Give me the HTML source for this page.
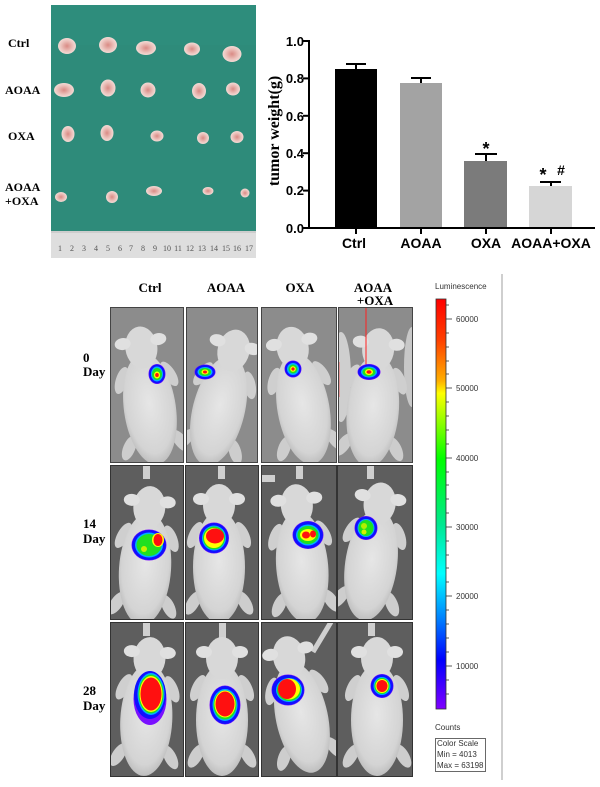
<!DOCTYPE html>
<html><head><meta charset="utf-8"><style>
html,body{margin:0;padding:0;background:#fff;width:600px;height:787px;overflow:hidden;}
svg{display:block;}
.ser{font-family:"Liberation Serif",serif;font-weight:bold;}
.san{font-family:"Liberation Sans",sans-serif;font-weight:bold;}
.sm{font-family:"Liberation Sans",sans-serif;font-size:8px;fill:#333;}
</style></head><body>
<svg width="600" height="787" viewBox="0 0 600 787" xmlns="http://www.w3.org/2000/svg" style="position:absolute;left:0;top:0;">
<defs>
<radialGradient id="bodyg" cx="50%" cy="45%" r="60%">
<stop offset="0%" stop-color="#e6e6e6"/><stop offset="75%" stop-color="#d4d4d4"/><stop offset="100%" stop-color="#b4b4b4"/>
</radialGradient>
<linearGradient id="cbar" x1="0" y1="0" x2="0" y2="1">
<stop offset="0" stop-color="#ff0000"/>
<stop offset="0.1" stop-color="#ff4000"/>
<stop offset="0.2" stop-color="#ffb000"/>
<stop offset="0.23" stop-color="#ffff00"/>
<stop offset="0.39" stop-color="#00ff00"/>
<stop offset="0.55" stop-color="#00e890"/>
<stop offset="0.67" stop-color="#00ffff"/>
<stop offset="0.78" stop-color="#0080ff"/>
<stop offset="0.88" stop-color="#0000ff"/>
<stop offset="1" stop-color="#8000ff"/>
</linearGradient>
<radialGradient id="tum" cx="50%" cy="50%" r="55%">
<stop offset="0%" stop-color="#d98a84"/><stop offset="60%" stop-color="#ecc3bd"/><stop offset="100%" stop-color="#f3e1dc"/>
</radialGradient>
<g id="mouse">
<ellipse cx="-24" cy="-18" rx="6" ry="14" transform="rotate(25 -24 -18)" fill="#cfcfcf"/>
<ellipse cx="24" cy="-18" rx="6" ry="14" transform="rotate(-25 24 -18)" fill="#cfcfcf"/>
<ellipse cx="-26" cy="50" rx="6" ry="13" transform="rotate(30 -26 50)" fill="#cdcdcd"/>
<ellipse cx="26" cy="50" rx="6" ry="13" transform="rotate(-30 26 50)" fill="#cdcdcd"/>
<ellipse cx="0" cy="14" rx="26" ry="56" fill="url(#bodyg)"/>
<ellipse cx="0" cy="-48" rx="16" ry="21" fill="#d8d8d8"/>
<ellipse cx="-18" cy="-54" rx="8" ry="6" fill="#e0e0e0"/>
<ellipse cx="18" cy="-54" rx="8" ry="6" fill="#e0e0e0"/>
</g>
</defs>

<!-- ===== Tumor photo ===== -->
<rect x="51" y="5" width="205" height="227" fill="#2e8b7a"/>
<rect x="51" y="5" width="205" height="40" fill="#2f8f7d" opacity="0.6"/>
<rect x="51" y="231" width="205" height="27" fill="#dedede"/>
<g stroke="#999" stroke-width="0.6">
<line x1="51" y1="232" x2="256" y2="232"/>
</g>
<g font-family="Liberation Serif, serif" font-size="8" fill="#555" text-anchor="middle">
<text x="60" y="251">1</text><text x="72" y="251">2</text><text x="84" y="251">3</text><text x="96" y="251">4</text><text x="108" y="251">5</text><text x="120" y="251">6</text><text x="131" y="251">7</text><text x="143" y="251">8</text><text x="155" y="251">9</text><text x="167" y="251">10</text><text x="178" y="251">11</text><text x="190" y="251">12</text><text x="202" y="251">13</text><text x="214" y="251">14</text><text x="226" y="251">15</text><text x="237" y="251">16</text><text x="249" y="251">17</text>
</g>
<!-- tumors -->
<g fill="url(#tum)">
<ellipse cx="67" cy="46" rx="9" ry="8"/><ellipse cx="108" cy="45" rx="9" ry="8"/><ellipse cx="146" cy="48" rx="10" ry="7"/><ellipse cx="192" cy="49" rx="8" ry="6.5"/><ellipse cx="232" cy="54" rx="9.5" ry="8"/>
<ellipse cx="64" cy="90" rx="10" ry="7"/><ellipse cx="108" cy="88" rx="7.5" ry="8.5"/><ellipse cx="148" cy="90" rx="7.5" ry="7.5"/><ellipse cx="199" cy="91" rx="7" ry="8"/><ellipse cx="233" cy="89" rx="7" ry="6.5"/>
<ellipse cx="68" cy="134" rx="6.5" ry="8"/><ellipse cx="107" cy="133" rx="6.5" ry="8"/><ellipse cx="157" cy="136" rx="6.5" ry="5.5"/><ellipse cx="203" cy="138" rx="6" ry="6"/><ellipse cx="237" cy="137" rx="6.5" ry="6"/>
<ellipse cx="61" cy="197" rx="6" ry="5"/><ellipse cx="112" cy="197" rx="6" ry="6"/><ellipse cx="154" cy="191" rx="8" ry="5"/><ellipse cx="208" cy="191" rx="5.5" ry="4"/><ellipse cx="245" cy="193" rx="4.5" ry="4.5"/>
</g>
<g class="ser" font-size="12" fill="#000">
<text x="8" y="47">Ctrl</text>
<text x="5" y="94">AOAA</text>
<text x="8" y="140">OXA</text>
<text x="5" y="191">AOAA</text>
<text x="5" y="205">+OXA</text>
</g>

<!-- ===== Bar chart ===== -->
<rect x="335" y="69" width="42" height="159" fill="#000"/>
<rect x="400" y="83" width="42" height="145" fill="#a3a3a3"/>
<rect x="464" y="161" width="43" height="67" fill="#7b7b7b"/>
<rect x="529" y="186" width="43" height="42" fill="#d6d6d6"/>
<g stroke="#000" stroke-width="2" fill="none">
<line x1="356" y1="69" x2="356" y2="64"/><line x1="346" y1="64" x2="366" y2="64"/>
<line x1="421" y1="83" x2="421" y2="78"/><line x1="411" y1="78" x2="431" y2="78"/>
<line x1="486" y1="161" x2="486" y2="154"/><line x1="475" y1="154" x2="497" y2="154"/>
<line x1="551" y1="186" x2="551" y2="182"/><line x1="540" y1="182" x2="561" y2="182"/>
<line x1="309" y1="40" x2="309" y2="229"/>
<line x1="308" y1="228" x2="595" y2="228"/>
<line x1="303" y1="41" x2="309" y2="41"/><line x1="303" y1="78.4" x2="309" y2="78.4"/><line x1="303" y1="115.8" x2="309" y2="115.8"/><line x1="303" y1="153.2" x2="309" y2="153.2"/><line x1="303" y1="190.6" x2="309" y2="190.6"/><line x1="303" y1="228" x2="309" y2="228"/>
<line x1="356" y1="228" x2="356" y2="234"/><line x1="421" y1="228" x2="421" y2="234"/><line x1="486" y1="228" x2="486" y2="234"/><line x1="551" y1="228" x2="551" y2="234"/>
</g>
<g class="san" font-size="13" fill="#000" text-anchor="end">
<text x="304" y="46">1.0</text><text x="304" y="83">0.8</text><text x="304" y="121">0.6</text><text x="304" y="158">0.4</text><text x="304" y="195">0.2</text><text x="304" y="233">0.0</text>
</g>
<g class="san" font-size="14" fill="#000" text-anchor="middle">
<text x="354" y="248">Ctrl</text><text x="421" y="248">AOAA</text><text x="486" y="248">OXA</text><text x="551" y="248">AOAA+OXA</text>
</g>
<text class="ser" font-size="16" fill="#000" text-anchor="middle" transform="translate(279,131) rotate(-90)">tumor weight(g)</text>
<g class="san" font-size="18" fill="#000" text-anchor="middle">
<text x="486" y="155">*</text><text x="543" y="181">*</text>
</g>
<text class="san" font-size="14" fill="#000" text-anchor="middle" x="561" y="175">#</text>

<!-- ===== Imaging headers ===== -->
<g class="ser" font-size="13" fill="#000" text-anchor="middle">
<text x="150" y="292">Ctrl</text><text x="226" y="292">AOAA</text><text x="300" y="292">OXA</text><text x="373" y="292">AOAA</text><text x="375" y="305">+OXA</text>
</g>
<g class="ser" font-size="13" fill="#000">
<text x="83" y="362">0</text><text x="83" y="376">Day</text>
<text x="83" y="528">14</text><text x="83" y="543">Day</text>
<text x="83" y="695">28</text><text x="83" y="710">Day</text>
</g>

<!-- ===== Row 1 ===== -->
<svg x="110" y="307" width="74" height="156">
<rect width="74" height="156" fill="#8c8c8c"/>
<use href="#mouse" transform="translate(38,88) rotate(-8)"/>
<ellipse cx="47" cy="67" rx="8.5" ry="10" fill="#7a10ff"/><ellipse cx="47" cy="67" rx="8" ry="9.5" fill="#1010ff"/><ellipse cx="47" cy="67" rx="6" ry="7.5" fill="#00b0ff"/><ellipse cx="47" cy="67" rx="5" ry="6" fill="#20e020"/><ellipse cx="47" cy="68" rx="3" ry="3.5" fill="#ffff00"/><ellipse cx="47" cy="68" rx="1.8" ry="2" fill="#ff1010"/>
<rect x="0.5" y="0.5" width="73" height="155" fill="none" stroke="#444"/>
</svg>
<svg x="186" y="307" width="72" height="156">
<rect width="72" height="156" fill="#8c8c8c"/>
<use href="#mouse" transform="translate(36,90) rotate(14)"/>
<ellipse cx="19" cy="65" rx="10.5" ry="7.5" fill="#7a10ff"/><ellipse cx="19" cy="65" rx="10" ry="7" fill="#1010ff"/><ellipse cx="19" cy="65" rx="7.5" ry="5" fill="#00b0ff"/><ellipse cx="19" cy="65" rx="6" ry="4" fill="#20e020"/><ellipse cx="19" cy="65" rx="3.5" ry="2.5" fill="#ffff00"/><ellipse cx="19" cy="65" rx="2" ry="1.5" fill="#ff1010"/>
<rect x="0.5" y="0.5" width="71" height="155" fill="none" stroke="#444"/>
</svg>
<svg x="261" y="307" width="76" height="156">
<rect width="76" height="156" fill="#8c8c8c"/>
<use href="#mouse" transform="translate(40,88) rotate(-10)"/>
<ellipse cx="32" cy="62" rx="8.5" ry="8.5" fill="#7a10ff"/><ellipse cx="32" cy="62" rx="8" ry="8" fill="#1010ff"/><ellipse cx="32" cy="62" rx="6" ry="6" fill="#00b0ff"/><ellipse cx="32" cy="62" rx="4.5" ry="4.5" fill="#20e020"/><ellipse cx="32" cy="62" rx="2.8" ry="2.8" fill="#ffff00"/><ellipse cx="32" cy="62" rx="1.6" ry="1.6" fill="#ff1010"/>
<rect x="0.5" y="0.5" width="75" height="155" fill="none" stroke="#444"/>
</svg>
<svg x="338" y="307" width="75" height="156">
<rect width="75" height="156" fill="#8c8c8c"/>
<ellipse cx="3" cy="70" rx="10" ry="45" fill="#cfcfcf"/>
<ellipse cx="74" cy="60" rx="8" ry="40" fill="#c8c8c8"/>
<use href="#mouse" transform="translate(36,90) rotate(5)"/>
<line x1="28" y1="0" x2="28" y2="64" stroke="#ff2020" stroke-width="1"/>
<line x1="1" y1="55" x2="1" y2="90" stroke="#ff4040" stroke-width="0.8"/>
<ellipse cx="31" cy="65" rx="11.5" ry="8" fill="#7a10ff"/><ellipse cx="31" cy="65" rx="11" ry="7.5" fill="#1010ff"/><ellipse cx="31" cy="65" rx="8" ry="5.5" fill="#00b0ff"/><ellipse cx="31" cy="65" rx="6.5" ry="4.5" fill="#20e020"/><ellipse cx="31" cy="65" rx="4" ry="3" fill="#ffff00"/><ellipse cx="31" cy="65" rx="2.5" ry="1.8" fill="#ff1010"/>
<rect x="0.5" y="0.5" width="74" height="155" fill="none" stroke="#444"/>
</svg>

<!-- ===== Row 2 ===== -->
<svg x="110" y="465" width="74" height="155">
<rect width="74" height="155" fill="#5e5e5e"/>
<rect x="33" y="0" width="7" height="14" fill="#cfcfcf"/>
<use href="#mouse" transform="translate(36,90) rotate(4)"/>
<ellipse cx="39" cy="80" rx="17.5" ry="15.5" fill="#7a10ff"/><ellipse cx="39" cy="80" rx="17" ry="15" fill="#1010ff"/><ellipse cx="39" cy="80" rx="14" ry="12.5" fill="#00b0ff"/><ellipse cx="39" cy="80" rx="12.5" ry="11" fill="#20e020"/><ellipse cx="34" cy="84" rx="3" ry="3" fill="#c8f000"/><ellipse cx="48" cy="75" rx="6" ry="7" fill="#ffff00"/><ellipse cx="48" cy="75" rx="4.5" ry="6" fill="#ff1010"/>
<rect x="0.5" y="0.5" width="73" height="154" fill="none" stroke="#333"/>
</svg>
<svg x="185" y="465" width="74" height="155">
<rect width="74" height="155" fill="#5e5e5e"/>
<rect x="33" y="0" width="7" height="14" fill="#cfcfcf"/>
<use href="#mouse" transform="translate(34,88)"/>
<ellipse cx="29" cy="73" rx="15" ry="15.5" fill="#7a10ff"/><ellipse cx="29" cy="73" rx="14.5" ry="15" fill="#1010ff"/><ellipse cx="29" cy="73" rx="12" ry="12.5" fill="#00b0ff"/><ellipse cx="29" cy="73" rx="11" ry="11.5" fill="#20e020"/><ellipse cx="29" cy="73" rx="10" ry="10" fill="#ffff00"/><ellipse cx="30" cy="71" rx="9" ry="7.5" fill="#ff1010"/>
<rect x="0.5" y="0.5" width="73" height="154" fill="none" stroke="#333"/>
</svg>
<svg x="261" y="465" width="76" height="155">
<rect width="76" height="155" fill="#5e5e5e"/>
<rect x="0" y="10" width="14" height="7" fill="#cfcfcf"/>
<rect x="35" y="0" width="7" height="14" fill="#cfcfcf"/>
<use href="#mouse" transform="translate(40,88) rotate(-5)"/>
<ellipse cx="47" cy="70" rx="15.5" ry="14" fill="#7a10ff"/><ellipse cx="47" cy="70" rx="15" ry="13.5" fill="#1010ff"/><ellipse cx="47" cy="70" rx="12" ry="10.5" fill="#00b0ff"/><ellipse cx="47" cy="70" rx="10.5" ry="9" fill="#20e020"/><ellipse cx="47" cy="70" rx="8" ry="6" fill="#ffff00"/><ellipse cx="45" cy="70" rx="4" ry="3.5" fill="#ff1010"/><ellipse cx="52" cy="69" rx="3" ry="3.5" fill="#ff1010"/>
<rect x="0.5" y="0.5" width="75" height="154" fill="none" stroke="#333"/>
</svg>
<svg x="337" y="465" width="76" height="155">
<rect width="76" height="155" fill="#5e5e5e"/>
<rect x="30" y="0" width="7" height="14" fill="#cfcfcf"/>
<use href="#mouse" transform="translate(36,86) rotate(8)"/>
<ellipse cx="29" cy="63" rx="11.5" ry="12" fill="#7a10ff"/><ellipse cx="29" cy="63" rx="11" ry="11.5" fill="#1010ff"/><ellipse cx="29" cy="63" rx="8.5" ry="9" fill="#00b0ff"/><ellipse cx="29" cy="63" rx="7.5" ry="8" fill="#20e020"/><ellipse cx="27" cy="61" rx="3" ry="3" fill="#b0f000"/><ellipse cx="27" cy="67" rx="2.5" ry="2.5" fill="#d8f000"/>
<rect x="0.5" y="0.5" width="75" height="154" fill="none" stroke="#333"/>
</svg>

<!-- ===== Row 3 ===== -->
<svg x="110" y="622" width="74" height="155">
<rect width="74" height="155" fill="#5e5e5e"/>
<rect x="33" y="0" width="7" height="14" fill="#cfcfcf"/>
<use href="#mouse" transform="translate(37,84) rotate(3)"/>
<ellipse cx="40" cy="77" rx="16.5" ry="26" fill="#7a10ff"/><ellipse cx="40" cy="73" rx="16" ry="24" fill="#1010ff"/><ellipse cx="41" cy="72" rx="13.5" ry="21" fill="#00b0ff"/><ellipse cx="41" cy="72" rx="12.5" ry="19.5" fill="#20e020"/><ellipse cx="41" cy="72" rx="11.5" ry="18" fill="#ffff00"/><ellipse cx="41" cy="72" rx="10.5" ry="16.5" fill="#ff1010"/>
<rect x="0.5" y="0.5" width="73" height="154" fill="none" stroke="#333"/>
</svg>
<svg x="185" y="622" width="74" height="155">
<rect width="74" height="155" fill="#5e5e5e"/>
<rect x="34" y="0" width="7" height="16" fill="#cfcfcf"/>
<use href="#mouse" transform="translate(37,84)"/>
<ellipse cx="40" cy="83" rx="15.5" ry="19.5" fill="#7a10ff"/><ellipse cx="40" cy="83" rx="15" ry="19" fill="#1010ff"/><ellipse cx="40" cy="83" rx="12.5" ry="16" fill="#00b0ff"/><ellipse cx="40" cy="83" rx="11.5" ry="14.5" fill="#20e020"/><ellipse cx="40" cy="82" rx="10.5" ry="13.5" fill="#ffff00"/><ellipse cx="40" cy="82" rx="9.5" ry="12.5" fill="#ff1010"/>
<rect x="0.5" y="0.5" width="73" height="154" fill="none" stroke="#333"/>
</svg>
<svg x="261" y="622" width="76" height="155">
<rect width="76" height="155" fill="#5e5e5e"/>
<line x1="70" y1="0" x2="52" y2="30" stroke="#d0d0d0" stroke-width="5"/>
<use href="#mouse" transform="translate(38,82) rotate(-12)"/>
<ellipse cx="27" cy="68" rx="16.5" ry="15.5" fill="#7a10ff"/><ellipse cx="27" cy="68" rx="16" ry="15" fill="#1010ff"/><ellipse cx="28" cy="68" rx="13" ry="12" fill="#00b0ff"/><ellipse cx="28" cy="68" rx="12" ry="11" fill="#20e020"/><ellipse cx="28" cy="67" rx="11" ry="10.5" fill="#ffff00"/><ellipse cx="26" cy="67" rx="9" ry="10" fill="#ff1010"/>
<rect x="0.5" y="0.5" width="75" height="154" fill="none" stroke="#333"/>
</svg>
<svg x="337" y="622" width="76" height="155">
<rect width="76" height="155" fill="#5e5e5e"/>
<rect x="31" y="0" width="7" height="14" fill="#cfcfcf"/>
<use href="#mouse" transform="translate(40,84)"/>
<ellipse cx="45" cy="64" rx="11.5" ry="12" fill="#7a10ff"/><ellipse cx="45" cy="64" rx="11" ry="11.5" fill="#1010ff"/><ellipse cx="45" cy="64" rx="8.5" ry="9" fill="#00b0ff"/><ellipse cx="45" cy="64" rx="7.5" ry="8" fill="#20e020"/><ellipse cx="45" cy="64" rx="6.5" ry="7" fill="#ffff00"/><ellipse cx="45" cy="64" rx="5.5" ry="6" fill="#ff1010"/>
<rect x="0.5" y="0.5" width="75" height="154" fill="none" stroke="#333"/>
</svg>

<!-- ===== Colour bar ===== -->
<text class="sm" x="435" y="289">Luminescence</text>
<rect x="436" y="299" width="10" height="410" fill="url(#cbar)" stroke="#333" stroke-width="0.8"/>
<g stroke="#333" stroke-width="0.8">
<line x1="446" y1="305" x2="449" y2="305"/><line x1="446" y1="319" x2="452" y2="319"/><line x1="446" y1="333" x2="449" y2="333"/><line x1="446" y1="347" x2="449" y2="347"/><line x1="446" y1="361" x2="449" y2="361"/><line x1="446" y1="374" x2="449" y2="374"/><line x1="446" y1="388" x2="452" y2="388"/><line x1="446" y1="402" x2="449" y2="402"/><line x1="446" y1="416" x2="449" y2="416"/><line x1="446" y1="430" x2="449" y2="430"/><line x1="446" y1="444" x2="449" y2="444"/><line x1="446" y1="458" x2="452" y2="458"/><line x1="446" y1="472" x2="449" y2="472"/><line x1="446" y1="485" x2="449" y2="485"/><line x1="446" y1="499" x2="449" y2="499"/><line x1="446" y1="513" x2="449" y2="513"/><line x1="446" y1="527" x2="452" y2="527"/><line x1="446" y1="541" x2="449" y2="541"/><line x1="446" y1="555" x2="449" y2="555"/><line x1="446" y1="568" x2="449" y2="568"/><line x1="446" y1="582" x2="449" y2="582"/><line x1="446" y1="596" x2="452" y2="596"/><line x1="446" y1="610" x2="449" y2="610"/><line x1="446" y1="624" x2="449" y2="624"/><line x1="446" y1="638" x2="449" y2="638"/><line x1="446" y1="652" x2="449" y2="652"/><line x1="446" y1="666" x2="452" y2="666"/><line x1="446" y1="680" x2="449" y2="680"/><line x1="446" y1="694" x2="449" y2="694"/>
</g>
<g class="sm">
<text x="456" y="322">60000</text><text x="456" y="391">50000</text><text x="456" y="461">40000</text><text x="456" y="530">30000</text><text x="456" y="599">20000</text><text x="456" y="669">10000</text>
<text x="435" y="730">Counts</text>
<text x="437" y="746">Color Scale</text>
<text x="437" y="757">Min = 4013</text>
<text x="437" y="768">Max = 63198</text>
</g>
<rect x="435.5" y="738.5" width="50" height="33" fill="none" stroke="#444" stroke-width="0.8"/>
<rect x="501" y="274" width="2" height="506" fill="#cfcfcf"/>
</svg>
</body></html>
